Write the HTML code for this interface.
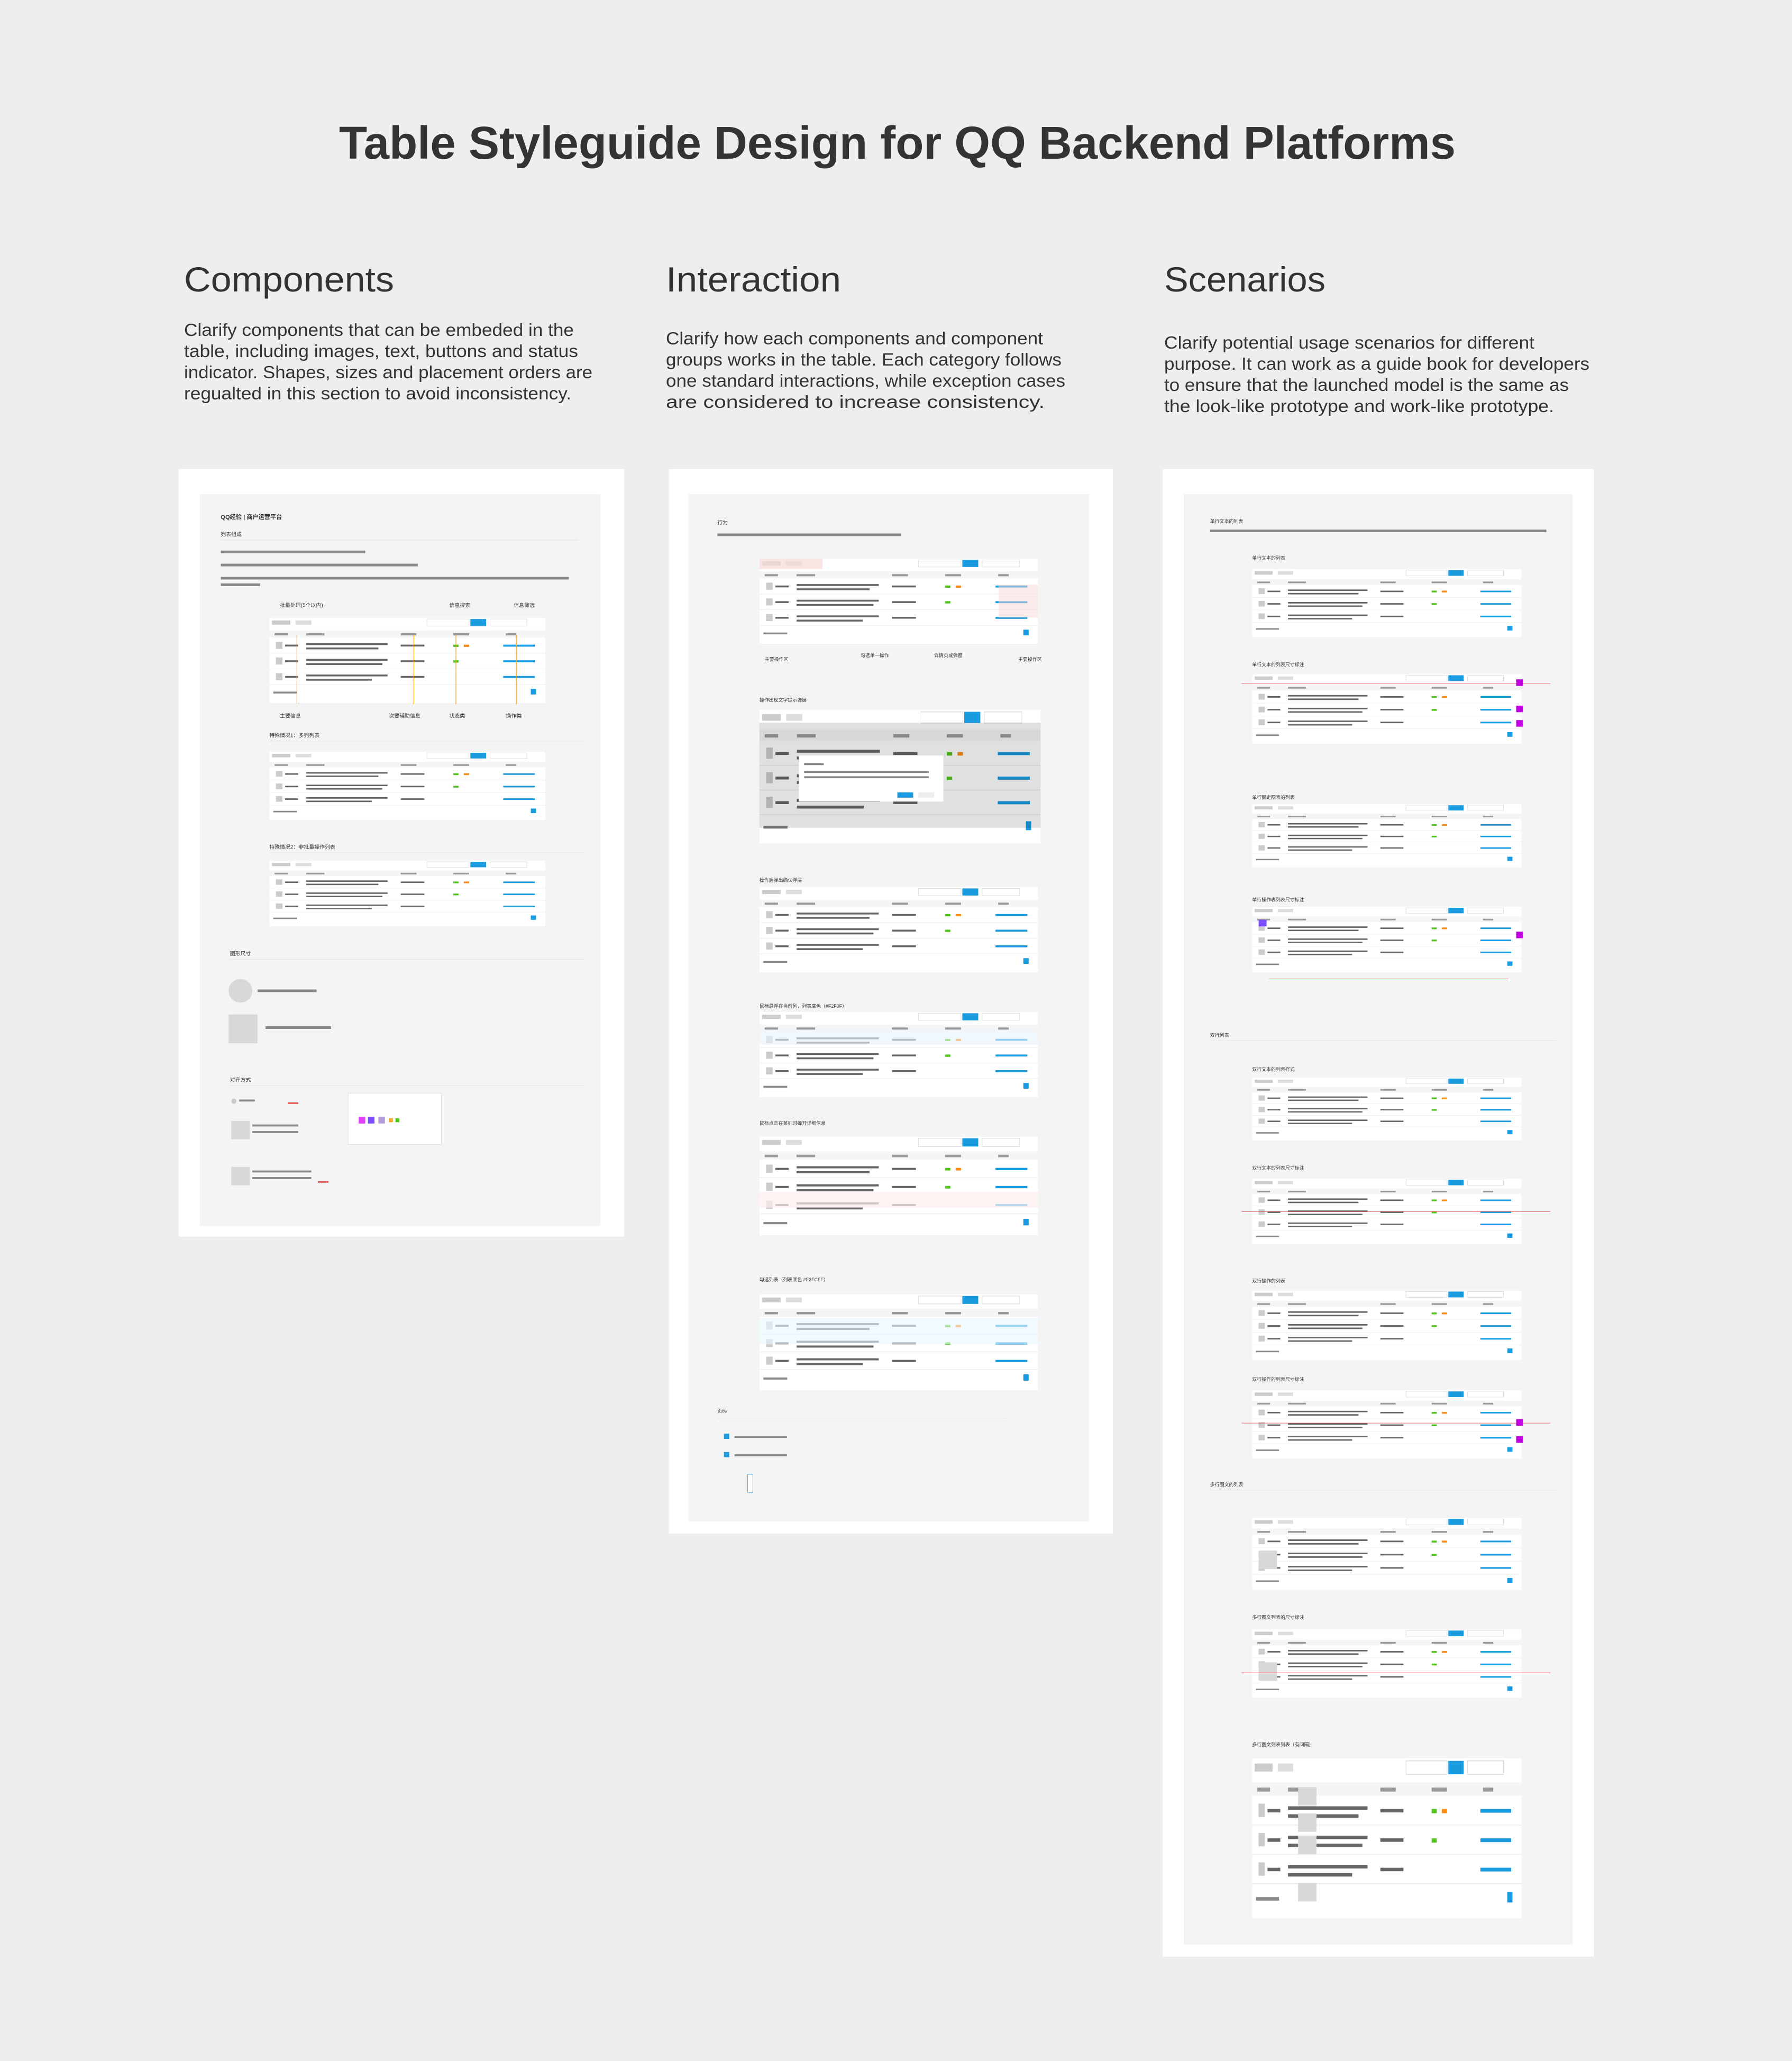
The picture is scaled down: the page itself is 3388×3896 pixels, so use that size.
<!DOCTYPE html>
<html><head><meta charset="utf-8">
<style>
html,body{margin:0;padding:0;background:#eeeeee;}
svg{display:block;}
text{font-family:"Liberation Sans","Noto Sans CJK SC",sans-serif;fill:#333;}
</style></head>
<body>
<svg width="3388" height="3896" viewBox="0 0 3388 3896" xmlns="http://www.w3.org/2000/svg">
<defs>
<symbol id="tbl" viewBox="0 0 210 60" preserveAspectRatio="none">
  <rect x="0" y="0" width="210" height="60" fill="#fff"/>
  <rect x="2" y="2" width="14" height="3" fill="#ccc"/>
  <rect x="20" y="2" width="12" height="3" fill="#ddd"/>
  <rect x="120" y="1" width="32" height="5" fill="#fff" stroke="#ddd" stroke-width="0.4"/>
  <rect x="153" y="1" width="12" height="5" fill="#1a9be0"/>
  <rect x="168" y="1" width="28" height="5" fill="#fff" stroke="#ddd" stroke-width="0.4"/>
  <rect x="0" y="9" width="210" height="5" fill="#f4f5f7"/>
  <rect x="4" y="11" width="10" height="1.5" fill="#999"/>
  <rect x="28" y="11" width="14" height="1.5" fill="#999"/>
  <rect x="100" y="11" width="12" height="1.5" fill="#999"/>
  <rect x="140" y="11" width="12" height="1.5" fill="#999"/>
  <rect x="180" y="11" width="8" height="1.5" fill="#999"/>
  <g fill="#666">
    <rect x="28" y="18" width="62" height="1.3"/><rect x="28" y="21" width="55" height="1.3"/>
    <rect x="28" y="29" width="62" height="1.3"/><rect x="28" y="32" width="58" height="1.3"/>
    <rect x="28" y="40" width="62" height="1.3"/><rect x="28" y="43" width="50" height="1.3"/>
    <rect x="100" y="19" width="18" height="1.3"/><rect x="100" y="30" width="18" height="1.3"/><rect x="100" y="41" width="18" height="1.3"/>
    <rect x="12" y="19" width="10" height="1.3"/><rect x="12" y="30" width="10" height="1.3"/><rect x="12" y="41" width="10" height="1.3"/>
  </g>
  <g fill="#ccc"><rect x="5" y="17" width="5" height="5"/><rect x="5" y="28" width="5" height="5"/><rect x="5" y="39" width="5" height="5"/></g>
  <rect x="140" y="19" width="4" height="1.6" fill="#52c41a"/><rect x="148" y="19" width="4" height="1.6" fill="#fa8c16"/>
  <rect x="140" y="30" width="4" height="1.6" fill="#52c41a"/>
  <g fill="#1a9be0"><rect x="178" y="19" width="24" height="1.4"/><rect x="178" y="30" width="24" height="1.4"/><rect x="178" y="41" width="24" height="1.4"/></g>
  <g stroke="#eee" stroke-width="0.4"><line x1="0" y1="25" x2="210" y2="25"/><line x1="0" y1="36" x2="210" y2="36"/><line x1="0" y1="47" x2="210" y2="47"/></g>
  <rect x="3" y="52" width="18" height="1.3" fill="#888"/>
  <rect x="199" y="50" width="4" height="4" fill="#1a9be0"/>
</symbol>
<symbol id="txt" viewBox="0 0 100 4" preserveAspectRatio="none">
  <rect x="0" y="1" width="100" height="2" fill="#888"/>
</symbol>
</defs>

<!-- Title -->
<text x="641" y="300" font-size="87" font-weight="bold" fill="#2b2b2b" textLength="2111" lengthAdjust="spacingAndGlyphs">Table Styleguide Design for QQ Backend Platforms</text>

<!-- Headings -->
<text x="348" y="551" font-size="66" fill="#333" textLength="397" lengthAdjust="spacingAndGlyphs">Components</text>
<text x="1259" y="551" font-size="66" fill="#333" textLength="331" lengthAdjust="spacingAndGlyphs">Interaction</text>
<text x="2201" y="551" font-size="66" fill="#333" textLength="305" lengthAdjust="spacingAndGlyphs">Scenarios</text>

<!-- Descriptions -->
<g font-size="33" fill="#444">
<text x="348" y="635" textLength="737" lengthAdjust="spacingAndGlyphs">Clarify components that can be embeded in the</text>
<text x="348" y="675" textLength="745" lengthAdjust="spacingAndGlyphs">table, including images, text, buttons and status</text>
<text x="348" y="715" textLength="772" lengthAdjust="spacingAndGlyphs">indicator. Shapes, sizes and placement orders are</text>
<text x="348" y="755" textLength="732" lengthAdjust="spacingAndGlyphs">regualted in this section to avoid inconsistency.</text>

<text x="1259" y="651" textLength="713" lengthAdjust="spacingAndGlyphs">Clarify how each components and component</text>
<text x="1259" y="691" textLength="748" lengthAdjust="spacingAndGlyphs">groups works in the table. Each category follows</text>
<text x="1259" y="731" textLength="755" lengthAdjust="spacingAndGlyphs">one standard interactions, while exception cases</text>
<text x="1259" y="771" textLength="716" lengthAdjust="spacingAndGlyphs">are considered to increase consistency.</text>

<text x="2201" y="659" textLength="700" lengthAdjust="spacingAndGlyphs">Clarify potential usage scenarios for different</text>
<text x="2201" y="699" textLength="804" lengthAdjust="spacingAndGlyphs">purpose. It can work as a guide book for developers</text>
<text x="2201" y="739" textLength="765" lengthAdjust="spacingAndGlyphs">to ensure that the launched model is the same as</text>
<text x="2201" y="779" textLength="737" lengthAdjust="spacingAndGlyphs">the look-like prototype and work-like prototype.</text>
</g>

<!-- Panels in preview coordinates -->
<g transform="scale(2.484)">
  <!-- Components -->
  <rect x="136" y="357" width="339" height="584" fill="#fff"/>
  <rect x="152" y="376" width="305" height="557" fill="#f4f4f4"/>
  <text x="168" y="395" font-size="4.5" font-weight="bold">QQ经验 | 商户运营平台</text>
  <text x="168" y="408" font-size="4">列表组成</text>
  <line x1="168" y1="411" x2="440" y2="411" stroke="#e4e4e4" stroke-width="0.4"/>
  <use href="#txt" x="168" y="418" width="110" height="4"/>
  <use href="#txt" x="168" y="428" width="150" height="4"/>
  <use href="#txt" x="168" y="438" width="265" height="4"/>
  <use href="#txt" x="168" y="443" width="30" height="4"/>
  <use href="#tbl" x="205" y="470" width="210" height="65"/>
  <g stroke="#f5a623" stroke-width="0.5">
    <line x1="226" y1="483" x2="226" y2="536"/><line x1="315" y1="483" x2="315" y2="536"/>
    <line x1="347" y1="483" x2="347" y2="536"/><line x1="393" y1="483" x2="393" y2="536"/>
  </g>
  <g font-size="4" fill="#555">
    <text x="213" y="462">批量处理(5个以内)</text><text x="342" y="462">信息搜索</text><text x="391" y="462">信息筛选</text>
    <text x="213" y="546">主要信息</text><text x="296" y="546">次要辅助信息</text><text x="342" y="546">状态类</text><text x="385" y="546">操作类</text>
    <text x="205" y="561">特殊情况1：多列列表</text><text x="205" y="646">特殊情况2：非批量操作列表</text>
    <text x="175" y="727">图形尺寸</text><text x="175" y="823">对齐方式</text>
    <text x="270" y="841" font-size="3.5">标注说明</text>
  </g>
  <line x1="205" y1="564" x2="445" y2="564" stroke="#e4e4e4" stroke-width="0.4"/>
  <use href="#tbl" x="205" y="572" width="210" height="52"/>
  <line x1="205" y1="649" x2="445" y2="649" stroke="#e4e4e4" stroke-width="0.4"/>
  <use href="#tbl" x="205" y="655" width="210" height="50"/>
  <line x1="175" y1="730" x2="445" y2="730" stroke="#e4e4e4" stroke-width="0.4"/>
  <circle cx="183" cy="754" r="9" fill="#d8d8d8"/>
  <use href="#txt" x="196" y="752" width="45" height="4"/>
  <rect x="174" y="772" width="22" height="22" fill="#d8d8d8"/>
  <use href="#txt" x="202" y="780" width="50" height="4"/>
  <line x1="175" y1="826" x2="445" y2="826" stroke="#e4e4e4" stroke-width="0.4"/>
  <rect x="265" y="832" width="71" height="39" fill="#fff" stroke="#ddd" stroke-width="0.4"/>
  <g><rect x="273" y="850" width="5" height="5" fill="#e040fb"/><rect x="280" y="850" width="5" height="5" fill="#7c4dff"/><rect x="288" y="850" width="5" height="5" fill="#b39ddb"/><rect x="296" y="851" width="3" height="3" fill="#f5a623"/><rect x="301" y="851" width="3" height="3" fill="#52c41a"/></g>
  <circle cx="178" cy="838" r="2" fill="#ccc"/><use href="#txt" x="182" y="836" width="12" height="3"/>
  <rect x="176" y="853" width="14" height="14" fill="#d8d8d8"/><use href="#txt" x="192" y="855" width="35" height="3"/><use href="#txt" x="192" y="860" width="35" height="3"/>
  <rect x="176" y="888" width="14" height="14" fill="#d8d8d8"/><use href="#txt" x="192" y="890" width="45" height="3"/><use href="#txt" x="192" y="895" width="45" height="3"/>
  <rect x="219" y="839" width="8" height="1" fill="#e53935"/><rect x="242" y="899" width="8" height="1" fill="#e53935"/>

  <!-- Interaction -->
  <rect x="509" y="357" width="338" height="810" fill="#fff"/>
  <rect x="524" y="376" width="305" height="782" fill="#f4f4f4"/>
  <text x="546" y="399" font-size="4">行为</text>
  <use href="#txt" x="546" y="405" width="140" height="4"/>
  <use href="#tbl" x="578" y="425" width="212" height="65"/>
  <rect x="578" y="425" width="48" height="8" fill="#f8d7d7" opacity="0.7"/>
  <rect x="760" y="445" width="30" height="25" fill="#f8d7d7" opacity="0.5"/>
  <g font-size="3.6" fill="#555"><text x="582" y="503">主要操作区</text><text x="655" y="500">勾选单一操作</text><text x="711" y="500">详情页或弹窗</text><text x="775" y="503">主要操作区</text>
  <text x="578" y="534">操作出现文字提示弹层</text><text x="578" y="671">操作后弹出确认浮层</text><text x="578" y="767">鼠标悬浮在当前列，列表底色（#F2F0F）</text><text x="578" y="856">鼠标点击在某列时弹开详细信息</text><text x="578" y="975">勾选列表（列表底色 #F2FCFF）</text><text x="546" y="1075">页码</text></g>
  <use href="#tbl" x="578" y="540" width="214" height="102"/>
  <rect x="578" y="550" width="214" height="80" fill="#000" opacity="0.12"/>
  <rect x="608" y="575" width="110" height="35" fill="#fff"/>
  <use href="#txt" x="612" y="580" width="15" height="3"/><use href="#txt" x="612" y="586" width="95" height="3"/><use href="#txt" x="612" y="590" width="95" height="3"/>
  <rect x="683" y="603" width="12" height="4" fill="#1a9be0"/><rect x="699" y="603" width="12" height="4" fill="#eee"/>
  <use href="#tbl" x="578" y="675" width="212" height="65"/>
  <use href="#tbl" x="578" y="770" width="212" height="65"/>
  <rect x="578" y="785" width="212" height="10" fill="#e8f4fc" opacity="0.6"/>
  <use href="#tbl" x="578" y="865" width="212" height="75"/>
  <rect x="578" y="907" width="212" height="12" fill="#fdf0f0" opacity="0.7"/>
  <use href="#tbl" x="578" y="985" width="212" height="73"/>
  <rect x="578" y="1003" width="212" height="20" fill="#e8f6fd" opacity="0.6"/>
  <line x1="546" y1="1079" x2="766" y2="1079" stroke="#e4e4e4" stroke-width="0.4"/>
  <g fill="#1a9be0"><rect x="551" y="1091" width="4" height="4"/><rect x="551" y="1105" width="4" height="4"/><rect x="569" y="1122" width="4" height="14" fill="#fff" stroke="#1a9be0" stroke-width="0.3"/></g>
  <use href="#txt" x="559" y="1092" width="40" height="3"/><use href="#txt" x="559" y="1106" width="40" height="3"/>

  <!-- Scenarios -->
  <rect x="885" y="357" width="328" height="1132" fill="#fff"/>
  <rect x="901" y="376" width="296" height="1104" fill="#f4f4f4"/>
  <g font-size="3.6" fill="#555">
    <text x="921" y="398">单行文本的列表</text><text x="921" y="789">双行列表</text><text x="921" y="1131">多行图文的列表</text>
    <text x="953" y="426">单行文本的列表</text><text x="953" y="507">单行文本的列表尺寸标注</text><text x="953" y="608">单行固定图表的列表</text><text x="953" y="686">单行操作表列表尺寸标注</text>
    <text x="953" y="815">双行文本的列表样式</text><text x="953" y="890">双行文本的列表尺寸标注</text><text x="953" y="976">双行操作的列表</text><text x="953" y="1051">双行操作的列表尺寸标注</text>
    <text x="953" y="1232">多行图文列表的尺寸标注</text><text x="953" y="1329">多行图文列表列表（有间隔）</text>
  </g>
  <use href="#txt" x="921" y="402" width="256" height="4"/>
  <line x1="921" y1="792" x2="1185" y2="792" stroke="#e4e4e4" stroke-width="0.4"/>
  <line x1="921" y1="1134" x2="1185" y2="1134" stroke="#e4e4e4" stroke-width="0.4"/>
  <use href="#tbl" x="953" y="433" width="205" height="52"/>
  <use href="#tbl" x="953" y="513" width="205" height="53"/>
  <line x1="945" y1="520" x2="1180" y2="520" stroke="#e53935" stroke-width="0.3"/>
  <rect x="1154" y="517" width="5" height="5" fill="#c000e0"/><rect x="1154" y="537" width="5" height="5" fill="#c000e0"/><rect x="1154" y="548" width="5" height="5" fill="#c000e0"/>
  <use href="#tbl" x="953" y="612" width="205" height="48"/>
  <use href="#tbl" x="953" y="690" width="205" height="50"/>
  <rect x="1154" y="709" width="5" height="5" fill="#c000e0"/><rect x="958" y="700" width="6" height="5" fill="#7c4dff"/>
  <line x1="966" y1="745" x2="1148" y2="745" stroke="#e53935" stroke-width="0.3"/>
  <use href="#tbl" x="953" y="820" width="205" height="48"/>
  <use href="#tbl" x="953" y="897" width="205" height="50"/>
  <line x1="945" y1="922" x2="1180" y2="922" stroke="#e53935" stroke-width="0.3"/>
  <use href="#tbl" x="953" y="982" width="205" height="53"/>
  <use href="#tbl" x="953" y="1058" width="205" height="52"/>
  <line x1="945" y1="1083" x2="1180" y2="1083" stroke="#e53935" stroke-width="0.3"/>
  <rect x="1154" y="1080" width="5" height="5" fill="#c000e0"/><rect x="1154" y="1093" width="5" height="5" fill="#c000e0"/>
  <use href="#tbl" x="953" y="1155" width="205" height="55"/>
  <rect x="958" y="1180" width="14" height="14" fill="#d8d8d8"/>
  <use href="#tbl" x="953" y="1240" width="205" height="52"/>
  <rect x="958" y="1265" width="14" height="14" fill="#d8d8d8"/>
  <line x1="945" y1="1273" x2="1180" y2="1273" stroke="#e53935" stroke-width="0.3"/>
  <use href="#tbl" x="953" y="1338" width="205" height="122"/>
  <g fill="#d8d8d8"><rect x="988" y="1360" width="14" height="14"/><rect x="988" y="1380" width="14" height="14"/><rect x="988" y="1397" width="14" height="14"/><rect x="988" y="1433" width="14" height="14"/></g>
</g>
</svg>
</body></html>
